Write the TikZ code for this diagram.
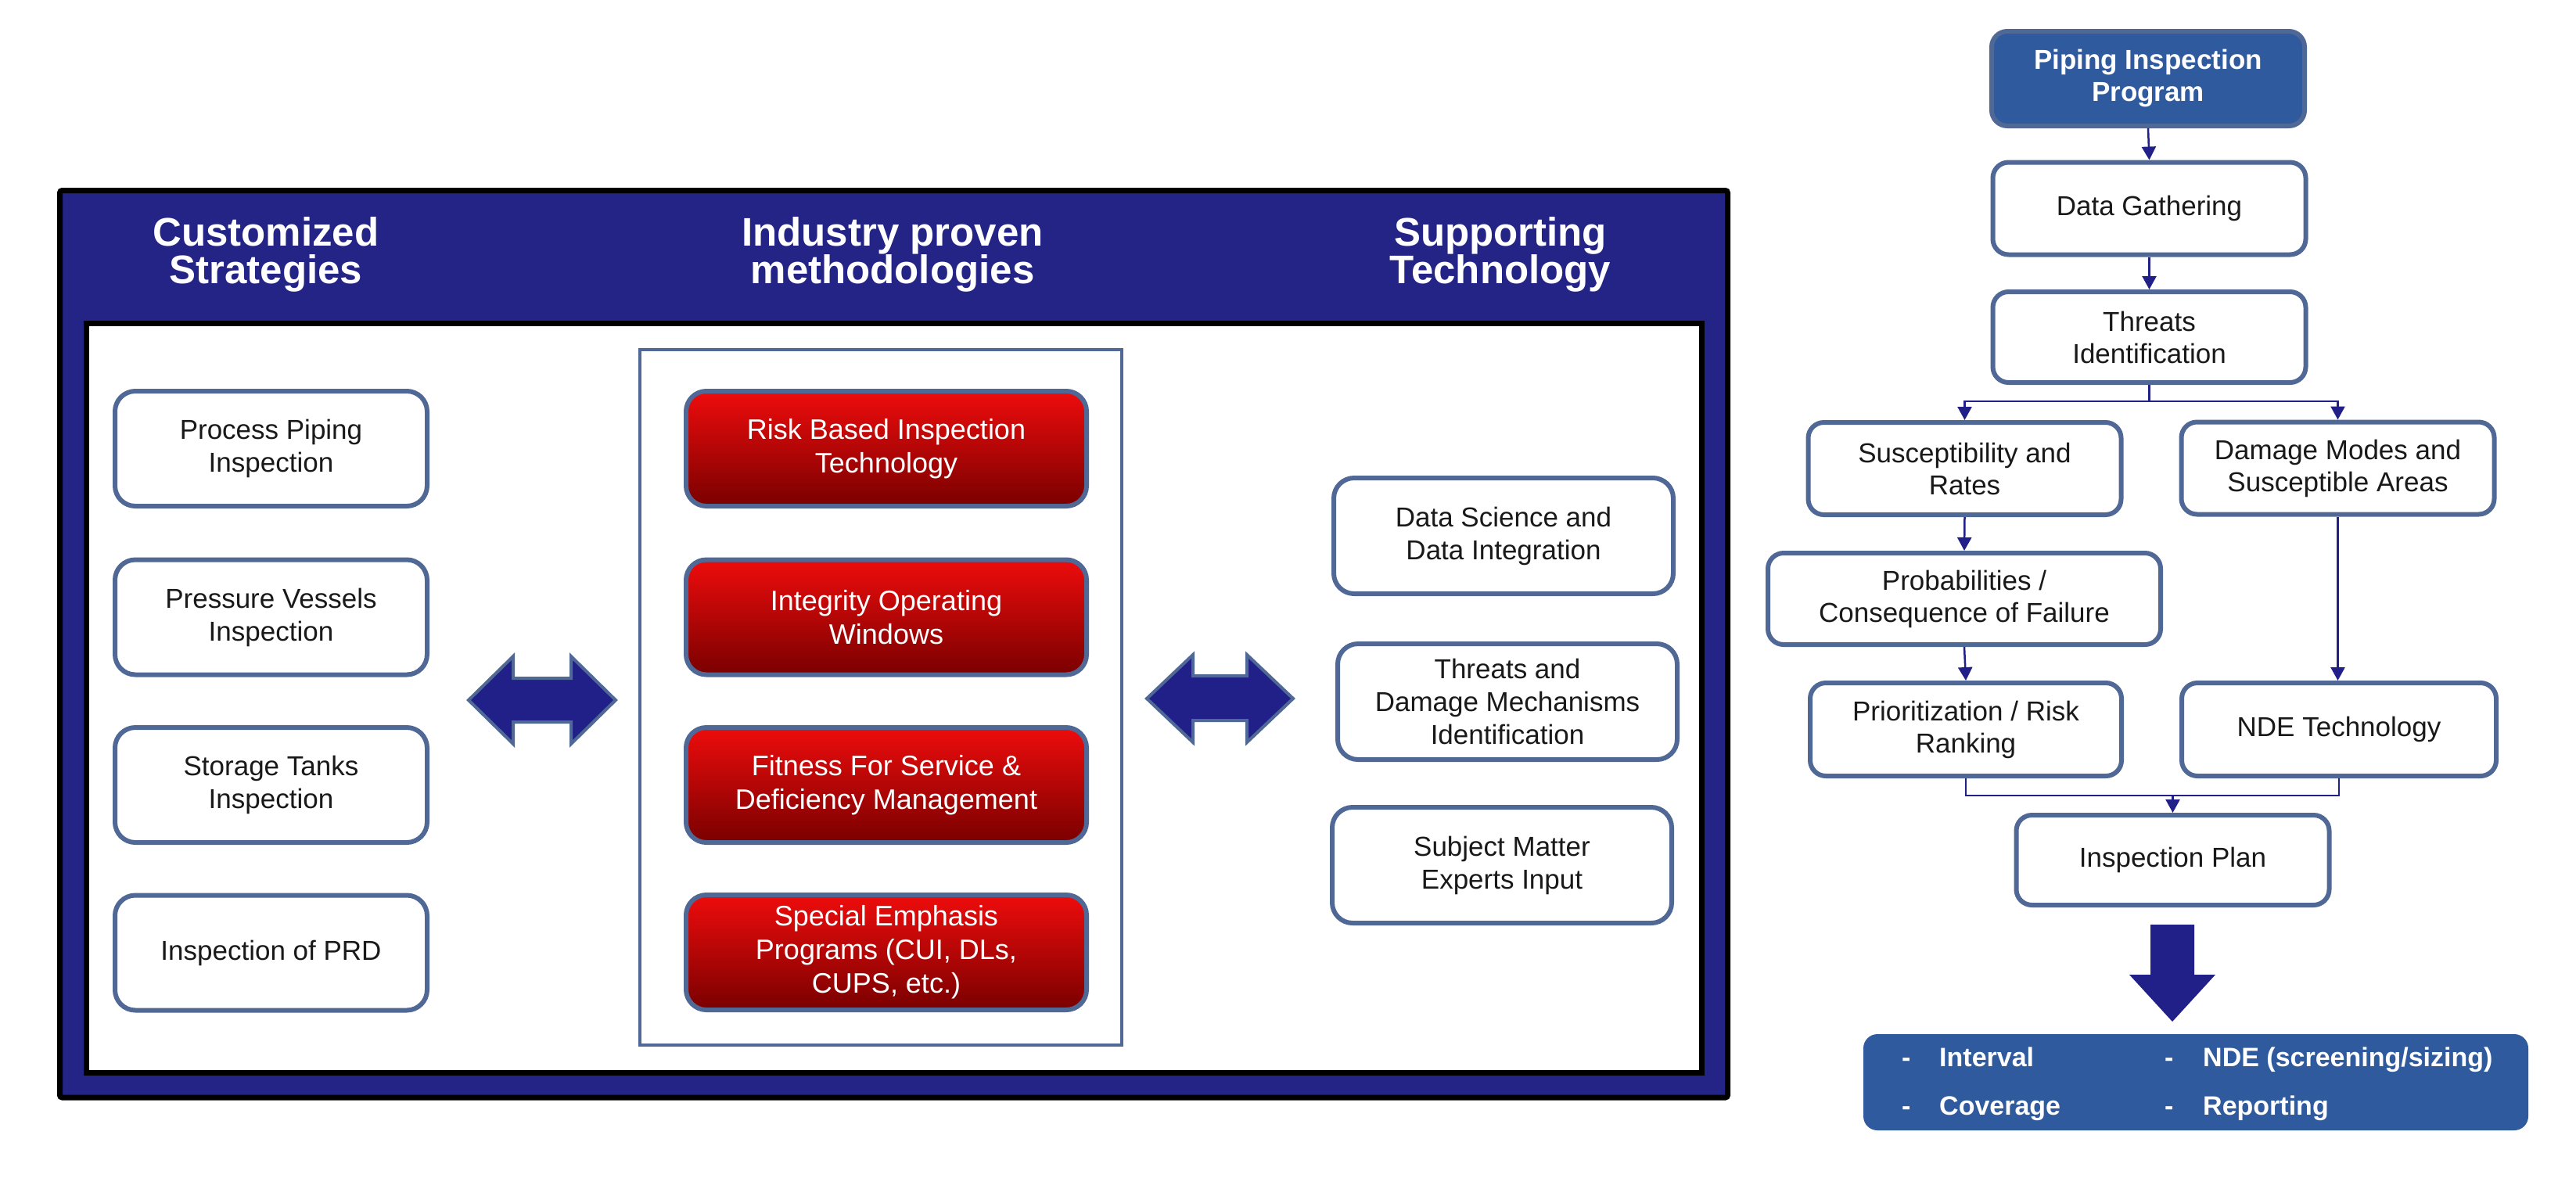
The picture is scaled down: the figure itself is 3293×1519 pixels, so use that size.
\documentclass[tikz,border=0pt]{standalone}
\usepackage{fontspec}
\setmainfont{Liberation Sans}
\usetikzlibrary{arrows.meta,calc}

\definecolor{navy}{RGB}{36,36,134}
\definecolor{bordblue}{RGB}{80,104,150}
\definecolor{steel}{RGB}{47,90,158}
\definecolor{redtop}{RGB}{238,12,12}
\definecolor{redbot}{RGB}{122,0,0}
\definecolor{arrownavy}{RGB}{32,32,136}
\definecolor{txt}{RGB}{25,25,25}

\begin{document}
\begin{tikzpicture}[x=1pt,y=-1pt,
  hdr/.style={text=white, align=center, inner sep=0pt,
    font=\fontsize{51}{48}\selectfont\bfseries},
  wbox/.style={draw=bordblue, line width=6pt, rounded corners=26pt, fill=white,
    minimum width=399pt, minimum height=147pt, align=center, inner sep=0pt,
    text=txt, font=\fontsize{35}{42}\selectfont},
  rbox/.style={draw=bordblue, line width=6pt, rounded corners=26pt,
    top color=redtop, bottom color=redbot,
    minimum width=512pt, minimum height=147pt, align=center, inner sep=0pt,
    text=white, font=\fontsize{36}{43}\selectfont},
  sbox/.style={draw=bordblue, line width=6pt, rounded corners=26pt, fill=white,
    minimum width=434pt, minimum height=148pt, align=center, inner sep=0pt,
    text=txt, font=\fontsize{35}{42}\selectfont},
  fbox/.style={draw=bordblue, line width=6pt, rounded corners=20pt, fill=white,
    minimum width=400pt, minimum height=118pt, align=center, inner sep=0pt,
    text=txt, font=\fontsize{35}{41}\selectfont},
  line/.style={draw=arrownavy, line width=2.5pt},
  conn/.style={line, -{Triangle[width=18pt,length=17pt]}},
  dblarrow/.style={fill=arrownavy, draw=bordblue, line width=4pt, line join=miter},
  btxt/.style={text=white, inner sep=0pt, font=\fontsize{34}{40}\selectfont\bfseries}
]
\useasboundingbox (0,0) rectangle (3293,1519);

% ---------- left panel ----------
\fill[navy, draw=black, line width=7pt, rounded corners=3pt] (76.5,243.5) rectangle (2208.5,1403);
\draw[black, fill=white, line width=7pt] (110,413.5) rectangle (2175,1371);

\node[hdr] (h1) at (340,325) {Customized\\Strategies};
\node[hdr] (h2) at (1141,325) {Industry proven\\methodologies};
\node[hdr] (h3) at (1918,325) {Supporting\\Technology};

% left column
\node[wbox] (l1) at (346.5,573.5) {Process Piping\\Inspection};
\node[wbox] (l2) at (346.5,789) {Pressure Vessels\\Inspection};
\node[wbox] (l3) at (346.5,1003.5) {Storage Tanks\\Inspection};
\node[wbox] (l4) at (346.5,1218) {Inspection of PRD};

% middle column
\draw[bordblue, line width=4pt, fill=white] (818,447) rectangle (1434,1336);
\node[rbox] (m1) at (1133,573.5) {Risk Based Inspection\\Technology};
\node[rbox] (m2) at (1133,789) {Integrity Operating\\Windows};
\node[rbox] (m3) at (1133,1003.5) {Fitness For Service \&\\Deficiency Management};
\node[rbox] (m4) at (1133,1217.5) {Special Emphasis\\Programs (CUI, DLs,\\CUPS, etc.)};

% right column
\node[sbox] (r1) at (1922,685) {Data Science and\\Data Integration};
\node[sbox] (r2) at (1927,897) {Threats and\\Damage Mechanisms\\Identification};
\node[sbox] (r3) at (1920,1106) {Subject Matter\\Experts Input};

% double arrows
\path[dblarrow] (599,895) -- (656,839) -- (656,867) -- (730,867) -- (730,839) -- (787,895)
  -- (730,951) -- (730,923) -- (656,923) -- (656,951) -- cycle;
\path[dblarrow] (1466,893) -- (1525,837) -- (1525,864) -- (1594,864) -- (1594,837) -- (1653,893)
  -- (1594,949) -- (1594,921) -- (1525,921) -- (1525,949) -- cycle;

% ---------- flowchart ----------
\node[fbox, fill=steel, text=white, minimum height=121pt, font=\fontsize{35}{41}\selectfont\bfseries]
  (pip) at (2746,100.5) {Piping Inspection\\Program};
\node[fbox] (dg) at (2747.5,266.5) {Data Gathering};
\node[fbox, minimum height=116pt] (ti) at (2747.5,431) {Threats\\Identification};
\node[fbox] (su) at (2511.5,599) {Susceptibility and\\Rates};
\node[fbox] (dm) at (2988.5,598.5) {Damage Modes and\\Susceptible Areas};
\node[fbox, minimum width=502pt, minimum height=117pt] (pr) at (2511,765.5) {Probabilities /\\Consequence of Failure};
\node[fbox, minimum width=398pt, minimum height=119pt] (rk) at (2513,932.5) {Prioritization / Risk\\Ranking};
\node[fbox, minimum width=402pt, minimum height=119pt] (nde) at (2990,932.5) {NDE Technology};
\node[fbox, minimum height=115pt] (ip) at (2777.5,1099.5) {Inspection Plan};

\draw[conn] (pip.south) -- (dg.north);
\draw[conn] (dg.south) -- (ti.north);
\draw[line] (ti.south) -- (ti.south |- 0,513) coordinate (br);
\draw[conn] (br) -| (su.north);
\draw[conn] (br) -| (dm.north);
\draw[conn] (su.south) -- (pr.north);
\draw[conn] (pr.south) -- (rk.north);
\draw[conn] (dm.south) -- (dm.south |- nde.north);
\draw[line] (rk.south) |- (nde.south |- 0,1017) -- (nde.south);
\coordinate (mg) at (ip.north |- 0,1017);
\draw[conn] (mg) -- (ip.north);

% big down arrow
\fill[arrownavy] (2749,1182) -- (2805,1182) -- (2805,1246) -- (2832,1246) -- (2777,1306)
  -- (2722,1246) -- (2749,1246) -- cycle;

% result box
\node[fill=steel, rounded corners=18pt, minimum width=850pt, minimum height=123pt, inner sep=0pt]
  (res) at (2807,1383.5) {};
\node[btxt, anchor=base west] (t1) at (2431,1363) {\makebox[48pt][l]{-}Interval};
\node[btxt, anchor=base west] (t2) at (2431,1425) {\makebox[48pt][l]{-}Coverage};
\node[btxt, anchor=base west] (t3) at (2767,1363) {\makebox[49pt][l]{-}NDE (screening/sizing)};
\node[btxt, anchor=base west] (t4) at (2767,1425) {\makebox[49pt][l]{-}Reporting};
\end{tikzpicture}
\end{document}
